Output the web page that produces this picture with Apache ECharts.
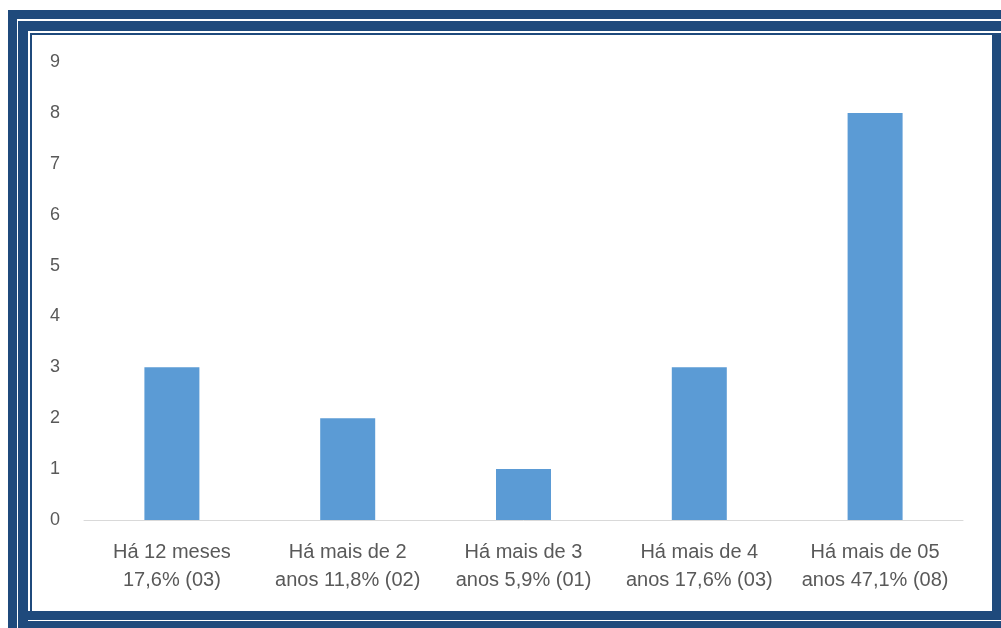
<!DOCTYPE html>
<html><head><meta charset="utf-8">
<script src="https://cdn.jsdelivr.net/npm/echarts@6/dist/echarts.min.js"></script>
<style>
html,body{margin:0;padding:0;background:#fff;}
#wrap{position:relative;width:1001px;height:628px;overflow:hidden;background:#fff;}
.b{position:absolute;background:#1f4a7c;}
#chart{position:absolute;left:0;top:0;width:1001px;height:628px;}
</style></head>
<body><div id="wrap">
<div class="b" style="left:8px;top:10px;width:993px;height:9px"></div>
<div class="b" style="left:8px;top:10px;width:9px;height:618px"></div>
<div class="b" style="left:18px;top:21px;width:983px;height:10px"></div>
<div class="b" style="left:18px;top:21px;width:10px;height:607px"></div>
<div class="b" style="left:30px;top:33px;width:962px;height:2px"></div>
<div class="b" style="left:30px;top:33px;width:2px;height:580px"></div>
<div class="b" style="left:992px;top:33px;width:9px;height:587px"></div>
<div class="b" style="left:28px;top:611px;width:973px;height:9px"></div>
<div class="b" style="left:18px;top:621px;width:983px;height:7px"></div>
<div id="chart"></div>
</div>
<script>
const categories = ['Há 12 meses\n17,6% (03)', 'Há mais de 2\nanos 11,8% (02)', 'Há mais de 3\nanos 5,9% (01)', 'Há mais de 4\nanos 17,6% (03)', 'Há mais de 05\nanos 47,1% (08)'];
const values = [3, 2, 1, 3, 8];
const yTicks = {min: 0, max: 9, interval: 1};

const chart = echarts.init(document.getElementById('chart'), null, {renderer: 'canvas'});
chart.setOption({
  animation: false,
  grid: {left: 84, right: 38, top: 62, bottom: 108, containLabel: false},
  xAxis: {
    type: 'category', data: categories,
    axisLine: {show: true, lineStyle: {color: '#d9d9d9', width: 1}},
    axisTick: {show: false},
    axisLabel: {interval: 0, hideOverlap: false, color: '#595959', fontFamily: 'Liberation Sans', fontSize: 20, lineHeight: 28, margin: 18}
  },
  yAxis: {
    type: 'value', min: yTicks.min, max: yTicks.max, interval: yTicks.interval,
    axisLine: {show: false}, axisTick: {show: false},
    splitLine: {show: false},
    axisLabel: {color: '#595959', fontFamily: 'Liberation Sans', fontSize: 18, margin: 24}
  },
  series: [{
    type: 'bar', data: values, barWidth: 55,
    itemStyle: {color: '#5b9bd5'}
  }]
});
</script>
</body></html>
